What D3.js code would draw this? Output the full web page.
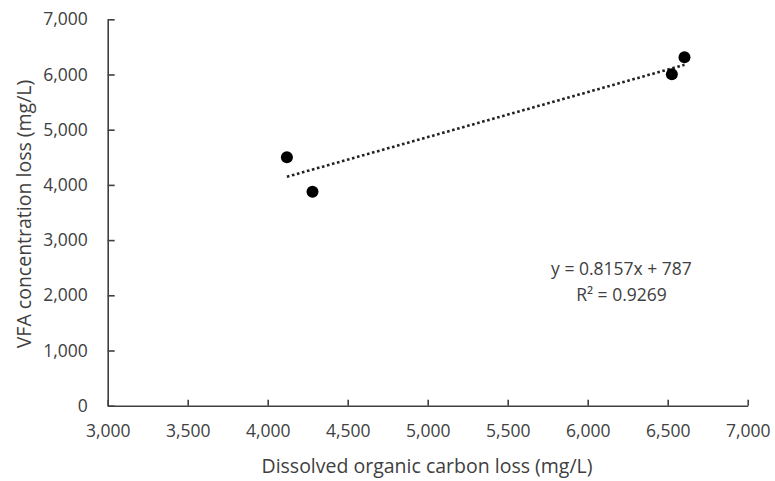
<!DOCTYPE html>
<html><head><meta charset="utf-8">
<script src="https://cdn.jsdelivr.net/npm/d3@7"></script>
<style>body{margin:0;background:#fff}svg{display:block}text{font-family:"Open Sans",sans-serif;fill:#404040}</style>
</head><body><svg id="c" width="775" height="481"></svg>
<script>
const docLoss = [4120, 4280, 6526, 6605];
const vfaLoss = [4500, 3877, 6004, 6312];
const xTicks = [3000, 3500, 4000, 4500, 5000, 5500, 6000, 6500, 7000];
const yTicks = [0, 1000, 2000, 3000, 4000, 5000, 6000, 7000];
const trendSlope = 0.8157, trendIntercept = 787;
const eqLabel = "y = 0.8157x + 787";
const r2Label = "R² = 0.9269";
const xTitle = "Dissolved organic carbon loss (mg/L)";
const yTitle = "VFA concentration loss  (mg/L)";

const svg = d3.select("#c");
const x = d3.scaleLinear().domain([3000, 7000]).range([107.7, 747.7]);
const y = d3.scaleLinear().domain([0, 7000]).range([405.7, 19.3]);
const fmt = d3.format(",");

const gx = svg.append("g").attr("transform", `translate(0,${y(0)})`)
  .call(d3.axisBottom(x).tickValues(xTicks).tickFormat(fmt).tickSizeInner(-6).tickSizeOuter(0).tickPadding(19));
const gy = svg.append("g").attr("transform", `translate(${x(3000)},0)`)
  .call(d3.axisLeft(y).tickValues(yTicks).tickFormat(fmt).tickSizeInner(-7).tickSizeOuter(0).tickPadding(20));
[gx, gy].forEach(g => {
  g.select(".domain").attr("stroke", "#404040").attr("stroke-width", 1.6);
  g.selectAll(".tick line").attr("stroke", "#404040").attr("stroke-width", 1.6);
  g.selectAll(".tick text").style("font-size", "17.5px").attr("fill", "#404040");
});

// trend line
const xs = d3.extent(docLoss);
svg.append("line")
  .attr("x1", x(xs[0])).attr("y1", y(trendSlope * xs[0] + trendIntercept))
  .attr("x2", x(xs[1])).attr("y2", y(trendSlope * xs[1] + trendIntercept))
  .attr("stroke", "#222").attr("stroke-width", 2.6).attr("stroke-dasharray", "2.6,2.6");

svg.selectAll("circle.pt").data(docLoss).join("circle").attr("class", "pt")
  .attr("cx", (d) => x(d)).attr("cy", (d, i) => y(vfaLoss[i])).attr("r", 6).attr("fill", "#000");

svg.append("text").attr("x", 621.5).attr("y", 275).attr("text-anchor", "middle").style("font-size", "17.5px").text(eqLabel);
svg.append("text").attr("x", 621.5).attr("y", 301).attr("text-anchor", "middle").style("font-size", "17.5px").text(r2Label);

svg.append("text").attr("x", 427).attr("y", 473).attr("text-anchor", "middle").style("font-size", "19.5px").text(xTitle);
svg.append("text").attr("transform", "translate(31,214) rotate(-90)").attr("text-anchor", "middle").style("font-size", "19.5px").text(yTitle);
</script></body></html>
